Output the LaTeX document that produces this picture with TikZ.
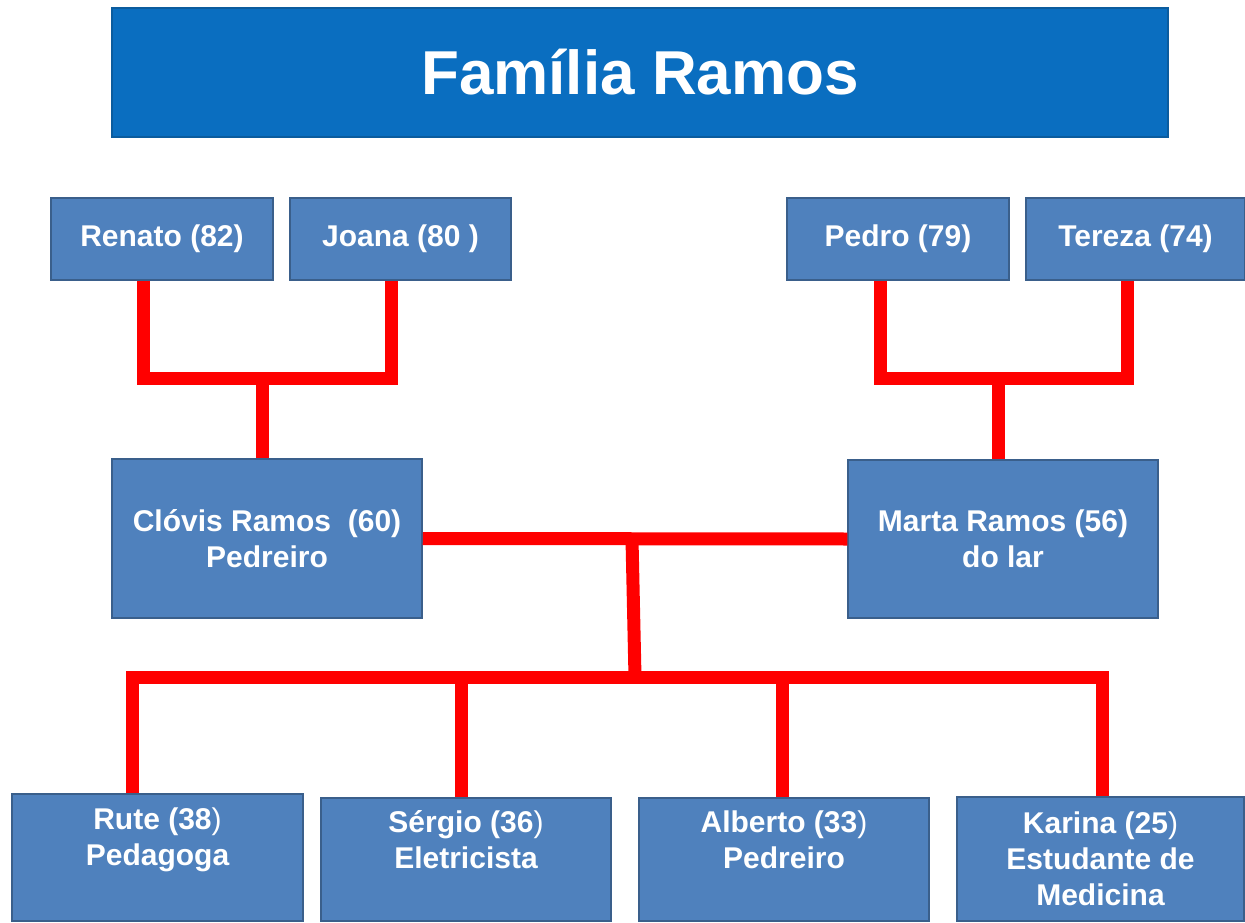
\documentclass[tikz,border=0pt]{standalone}
\usepackage{fontspec}
\setmainfont{Liberation Sans}
\definecolor{boxfill}{HTML}{4F81BD}
\definecolor{boxborder}{HTML}{3A5F8B}
\definecolor{titlefill}{HTML}{0A6EC0}
\definecolor{titleborder}{HTML}{0B5C9E}
\definecolor{linkred}{HTML}{FF0000}
\tikzset{
  box/.style={draw=boxborder, line width=1.5pt, fill=boxfill, inner sep=0pt,
    text=white, align=center, font=\bfseries\fontsize{30}{36}\selectfont},
  lbl/.style={inner sep=0pt, text=white, align=center,
    font=\bfseries\fontsize{30}{36}\selectfont},
  titlebox/.style={draw=titleborder, line width=1.2pt, fill=titlefill, inner sep=0pt,
    text=white, font=\bfseries\fontsize{62}{70}\selectfont},
  link/.style={draw=linkred, line width=13pt, line join=miter}
}
\begin{document}
\begin{tikzpicture}[x=1pt,y=-1pt]
\useasboundingbox[fill=white] (0,0) rectangle (1245,923);
% title
\node[titlebox, minimum width=1056pt, minimum height=129pt] (title) at (640,72.5) {Família Ramos};
% grandparents
\node[box, minimum width=222pt, minimum height=82pt] (renato) at (162,239) {Renato (82)};
\node[box, minimum width=221pt, minimum height=82pt] (joana) at (400.5,239) {Joana (80 )};
\node[box, minimum width=222pt, minimum height=82pt] (pedro) at (898,239) {Pedro (79)};
\node[box, minimum width=219pt, minimum height=82pt] (tereza) at (1135.5,239) {Tereza (74)};
% parents
\node[box, minimum width=310pt, minimum height=159pt] (clovis) at (267,538.5) {Clóvis Ramos~ (60)\\Pedreiro};
\node[box, minimum width=310pt, minimum height=158pt] (marta) at (1003,539) {Marta Ramos (56)\\do lar};
% children
\node[box, minimum width=291pt, minimum height=127pt] (rute) at (157.5,857.5) {};
\node[box, minimum width=290pt, minimum height=123pt] (sergio) at (466,859.5) {};
\node[box, minimum width=290pt, minimum height=123pt] (alberto) at (784,859.5) {};
\node[box, minimum width=287pt, minimum height=124pt] (karina) at (1100.5,859) {};
\node[lbl] (rutet) at (rute.center |- 0,840) {Rute (38{\mdseries)}\\Pedagoga};
\node[lbl] (sergiot) at (sergio.center |- 0,840) {Sérgio (36{\mdseries)}\\Eletricista};
\node[lbl] (albertot) at (alberto.center |- 0,840) {Alberto (33{\mdseries)}\\Pedreiro};
\node[lbl] (karinat) at (karina.center |- 0,859) {Karina (25{\mdseries)}\\Estudante de\\Medicina};
% junction points
\coordinate (pj1) at (262,378);
\coordinate (pj2) at (998,378);
\coordinate (mid) at (632,539);
\coordinate (bar) at (635,677);
\coordinate (rd) at ([xshift=-25.5pt]rute.north);
\coordinate (sd) at ([xshift=-5pt]sergio.north);
\coordinate (ad) at ([xshift=-2pt]alberto.north);
\coordinate (kd) at ([xshift=2pt]karina.north);
% connectors
\draw[link] ([xshift=-19pt]renato.south) |- (pj1) -| ([xshift=-9.5pt]joana.south);
\draw[link] (pj1) -- (pj1 |- clovis.north);
\draw[link] ([xshift=-18pt]pedro.south) |- (pj2) -| ([xshift=-8.5pt]tereza.south);
\draw[link] (pj2) -- (pj2 |- marta.north);
\draw[link] (clovis.east) -- (marta.west);
\draw[link] (mid) -- (bar);
\draw[link] (rd) |- (bar) -| (kd);
\draw[link] (sd) -- (sd |- bar);
\draw[link] (ad) -- (ad |- bar);
\end{tikzpicture}
\end{document}
